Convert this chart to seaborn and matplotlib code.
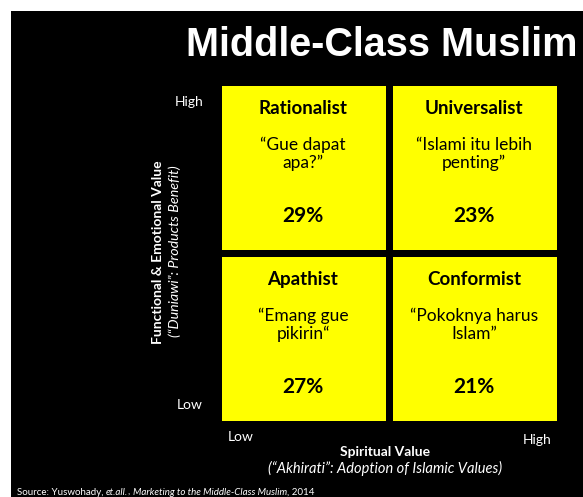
import numpy as np
import pandas as pd
import matplotlib
matplotlib.use('Agg')
import matplotlib.pyplot as plt
from matplotlib.colors import ListedColormap
from matplotlib.patches import Rectangle
import seaborn as sns

# Segment grid (rows: functional value High/Low, cols: spiritual value Low/High)
segments = [['Rationalist', 'Universalist'],
            ['Apathist', 'Conformist']]
quotes = [['\u201cGue dapat\napa?\u201d', '\u201cIslami itu lebih\npenting\u201d'],
          ['\u201cEmang gue\npikirin\u201c', '\u201cPokoknya harus\nIslam\u201d']]
shares = [[29, 23],
          [27, 21]]
row_labels = ['High', 'Low']
col_labels = ['Low', 'High']

sns.set_style('white')
plt.rcParams['font.family'] = ['Lato', 'DejaVu Sans']

fig = plt.figure(figsize=(5.83, 4.97), dpi=100)
fig.patch.set_facecolor('white')
# black slide background
fig.patches.append(Rectangle((11 / 583, 0), 1, (497 - 11) / 497, transform=fig.transFigure,
                             facecolor='black', edgecolor='none', zorder=-5))

W, H = 583, 497
x0, x1, y0, y1 = 217.5, 559.5, 82.5, 423.5
ax = fig.add_axes([x0 / W, 1 - y1 / H, (x1 - x0) / W, (y1 - y0) / H])

df = pd.DataFrame(shares, index=row_labels, columns=col_labels)
sns.heatmap(df, ax=ax, cmap=ListedColormap(['#ffff00']), cbar=False,
            linewidths=5.0, linecolor='black', xticklabels=False, yticklabels=False)
ax.set_xlabel('')
ax.set_ylabel('')

for r in range(2):
    for c in range(2):
        ax.text(c + 0.5, r + 0.155, segments[r][c], ha='center', va='center',
                fontsize=13.5, fontweight='bold', color='black')
        ax.text(c + 0.5, r + 0.42, quotes[r][c], ha='center', va='center',
                fontsize=12.5, color='black', linespacing=1.15)
        ax.text(c + 0.5, r + 0.785, f'{shares[r][c]}%', ha='center', va='center',
                fontsize=15, fontweight='bold', color='black')

# title
fig.text(578 / W, 1 - 45 / H, 'Middle-Class Muslim', ha='right', va='center',
         fontsize=28.5, fontweight='bold', color='white', family='Liberation Sans')

# axis end labels
fig.text(203 / W, 1 - 102 / H, row_labels[0], ha='right', va='center', fontsize=10, color='white')
fig.text(203 / W, 1 - 405 / H, row_labels[1], ha='right', va='center', fontsize=10, color='white')
fig.text(241 / W, 1 - 437 / H, col_labels[0], ha='center', va='center', fontsize=10, color='white')
fig.text(537 / W, 1 - 440 / H, col_labels[1], ha='center', va='center', fontsize=10, color='white')

# axis titles
fig.text(385 / W, 1 - 452 / H, 'Spiritual Value', ha='center', va='center',
         fontsize=10, fontweight='bold', color='white')
fig.text(385 / W, 1 - 468 / H, '(\u201cAkhirati\u201d: Adoption of Islamic Values)', ha='center',
         va='center', fontsize=10.5, style='italic', color='white')
fig.text(158 / W, 1 - 252 / H, 'Functional & Emotional Value', ha='center', va='center',
         rotation=90, fontsize=10, fontweight='bold', color='white')
fig.text(175 / W, 1 - 251 / H, '(\u201cDuniawi\u201d: Products Benefit)', ha='center', va='center',
         rotation=90, fontsize=10.3, style='italic', color='white')

# source line with mixed styles, each piece placed right after the previous one
last = fig.text(17 / W, 1 - 497 / H, 'Source: Yuswohady, ', ha='left', va='bottom',
                fontsize=7, color='white')
for piece, st in [('et.all.', 'italic'), (', ', 'normal'),
                  ('Marketing to the Middle-Class Muslim', 'italic'), (', 2014', 'normal')]:
    last = ax.annotate(piece, xy=(1, 0), xycoords=last, xytext=(0, 0), textcoords='offset points',
                       ha='left', va='bottom', fontsize=7, color='white', style=st,
                       annotation_clip=False)

plt.savefig('out.png', dpi=100, facecolor=fig.get_facecolor())
